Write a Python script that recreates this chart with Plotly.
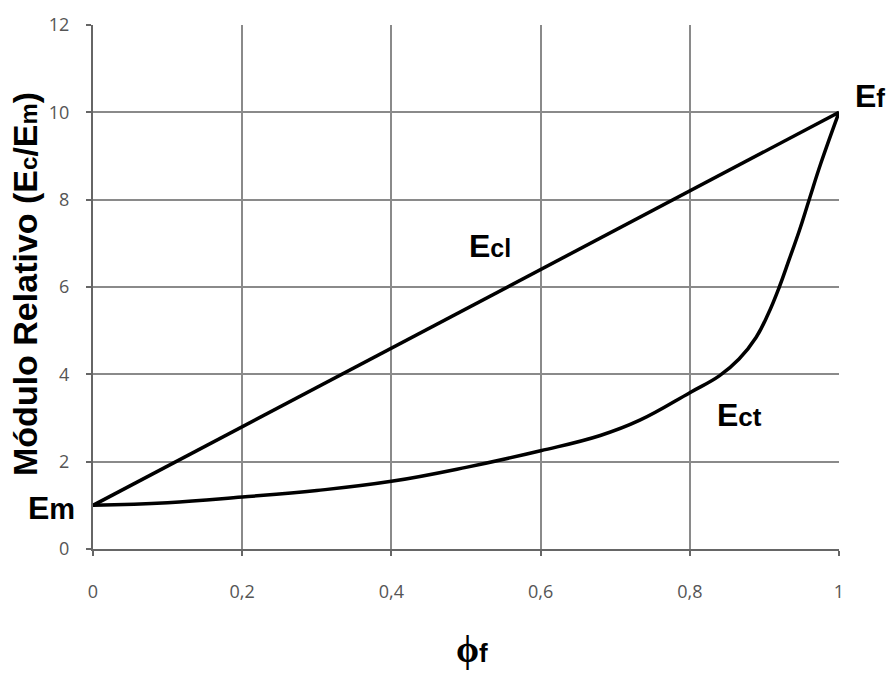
import plotly.graph_objects as go

# Data
phi_ecl = [0.0, 0.2, 0.4, 0.6, 0.8, 1.0]
ecl = [1.0, 2.8, 4.6, 6.4, 8.2, 10.0]

phi_ect = [0.0, 0.1, 0.2, 0.3, 0.4, 0.5, 0.6, 0.68, 0.733, 0.8, 0.84, 0.866, 0.889, 0.905,
           0.92, 0.933, 0.947, 0.96, 0.976, 1.0]
ect = [1.0, 1.06, 1.19, 1.34, 1.55, 1.87, 2.25, 2.6, 2.95, 3.58, 3.97, 4.35, 4.85, 5.38,
       6.0, 6.62, 7.3, 8.0, 8.85, 10.0]

x_ticks = [0, 0.2, 0.4, 0.6, 0.8, 1]
y_ticks = [0, 2, 4, 6, 8, 10, 12]

fig = go.Figure()
fig.add_trace(go.Scatter(x=phi_ecl, y=ecl, mode="lines",
                         line=dict(color="black", width=3.5), showlegend=False))
fig.add_trace(go.Scatter(x=phi_ect, y=ect, mode="lines", line_shape="spline",
                         line=dict(color="black", width=3.5, smoothing=1.2), showlegend=False))

SANS = "Liberation Sans, Arial, sans-serif"
lab_font = dict(family=SANS, size=32, color="black")

def lab(txt, s, size):
    return f"<b>{txt}<span style='font-size:{size}px'>{s}</span></b>"

annots = [
    dict(x=-0.0563, y=0.0777, text=lab("E", "m", 29)),
    dict(x=1.0416, y=0.8636, text=lab("E", "f", 26)),
    dict(x=0.532, y=0.5786, text=lab("E", "cl", 25)),
    dict(x=0.867, y=0.2557, text=lab("E", "ct", 26)),
]
for a in annots:
    fig.add_annotation(xref="paper", yref="paper", showarrow=False, font=lab_font,
                       xanchor="center", yanchor="middle", **a)

fig.add_annotation(xref="paper", yref="paper", x=-0.0912, y=0.5057, showarrow=False,
                   xanchor="center", yanchor="middle",
                   textangle=-90, font=dict(family=SANS, size=34, color="black"),
                   text="<b>Módulo Relativo (E<span style='font-size:24px'>c</span>/E<span style='font-size:24px'>m</span>)</b>")
fig.add_annotation(xref="paper", yref="paper", x=0.508, y=-0.192, showarrow=False,
                   xanchor="center", yanchor="middle",
                   font=dict(family="Liberation Serif, serif", size=37, color="black"),
                   text="<b>ϕ<span style='font-size:26px;font-family:Liberation Sans'>f</span></b>")

tick_font = dict(family="Open Sans, sans-serif", size=18, color="#555555")
fig.update_xaxes(range=[0, 1], tickvals=x_ticks, showgrid=True, gridcolor="#8a8a8a", gridwidth=2,
                 showline=True, linecolor="#666666", linewidth=2, ticks="outside", ticklen=5,
                 tickcolor="#666666", tickwidth=2, tickfont=tick_font, ticklabelstandoff=20,
                 zeroline=False, tickformat=".1~f")
fig.update_yaxes(range=[0, 12], tickvals=y_ticks, showgrid=True, gridcolor="#8a8a8a", gridwidth=2,
                 showline=True, linecolor="#666666", linewidth=2, ticks="outside", ticklen=5,
                 tickcolor="#666666", tickwidth=2, tickfont=tick_font, ticklabelstandoff=13,
                 zeroline=False)

fig.update_layout(width=890, height=675, margin=dict(l=93, r=51, t=21, b=126),
                  plot_bgcolor="white", paper_bgcolor="white", separators=",.")

fig.write_html("out.html")
